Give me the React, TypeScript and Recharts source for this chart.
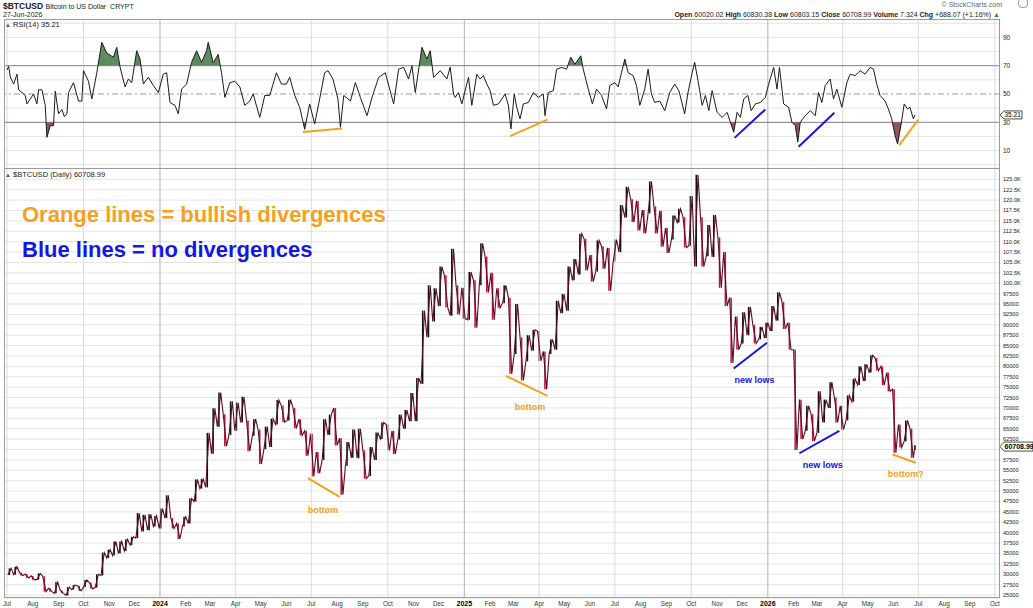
import React from 'react'
import {
  ComposedChart, Line, Area, Bar, Cell, XAxis, YAxis, CartesianGrid,
  ReferenceLine, ReferenceDot,
} from 'recharts'

// ---- values ----

// weekly low / high in $K, weeks start Sat 1 Jul 2023; last entry is 27 Jun 2026 on its own
const weekLow = [
  29.8, 29.9, 29.7, 29.1, 28.7, 28.7, 25.8, 25.8, 25.4, 25.4,
  24.9, 26.3, 26.0, 26.9, 26.5, 26.8, 29.7, 33.9, 34.5, 35.0,
  35.6, 37.0, 38.7, 40.3, 40.6, 41.5, 41.0, 43.5, 41.0, 38.5,
  41.5, 42.2, 47.5, 50.6, 50.9, 59.0, 65.5, 60.8, 63.5, 64.5,
  66.5, 59.6, 63.3, 56.5, 60.1, 60.6, 66.0, 66.6, 67.0, 65.1,
  63.4, 58.5, 53.5, 54.3, 57.5, 63.5, 61.0, 49.1, 56.1, 58.0,
  57.9, 53.0, 53.6, 57.5, 62.5, 59.8, 58.9, 62.4, 65.0, 66.8,
  66.8, 75.8, 87.0, 90.8, 94.5, 94.2, 92.2, 92.5, 91.5, 91.2,
  89.3, 99.5, 97.8, 91.2, 94.1, 95.2, 78.2, 83.0, 76.6, 81.2,
  83.8, 81.3, 74.5, 83.0, 84.0, 92.8, 93.4, 100.7, 102.1, 103.1,
  100.4, 102.8, 103.5, 98.2, 105.2, 107.5, 115.8, 114.7, 112.7, 112.0,
  116.8, 112.0, 108.8, 107.3, 110.5, 114.6, 108.6, 109.0, 104.0, 104.0,
  106.5, 106.3, 98.9, 94.5, 80.8, 84.0, 85.5, 87.5, 85.5, 86.5,
  86.8, 88.5, 91.0, 89.0, 84.0, 59.9, 62.5, 64.5, 62.0, 64.0,
  66.5, 70.0, 66.5, 64.8, 67.0, 71.5, 75.5, 76.5, 78.5, 79.0,
  75.5, 74.0, 59.2, 60.5, 62.0, 58.0, 59.9,
]
const weekHigh = [
  31.4, 31.8, 30.4, 30.0, 29.6, 30.2, 29.5, 26.6, 28.1, 26.1,
  26.9, 27.4, 27.2, 28.6, 28.0, 30.0, 35.2, 35.9, 37.9, 37.9,
  38.4, 39.0, 44.7, 44.3, 44.4, 44.0, 45.8, 49.0, 43.5, 42.2,
  43.8, 48.2, 52.8, 52.9, 64.0, 69.9, 73.7, 68.5, 71.6, 71.3,
  72.7, 67.0, 67.3, 64.8, 65.5, 67.4, 71.9, 70.5, 72.0, 70.0,
  67.3, 64.5, 63.8, 59.4, 67.3, 68.4, 70.0, 62.7, 61.8, 64.8,
  65.0, 59.8, 60.6, 64.1, 66.5, 66.0, 64.5, 68.4, 69.5, 73.6,
  77.2, 93.4, 99.5, 98.8, 104.0, 101.9, 108.3, 99.5, 98.9, 102.7,
  100.7, 109.6, 106.4, 102.5, 98.8, 99.5, 96.5, 95.0, 87.0, 87.5,
  88.8, 88.5, 83.6, 86.5, 95.8, 97.4, 104.0, 105.8, 111.9, 110.7,
  106.8, 110.3, 108.9, 108.5, 110.5, 118.8, 123.2, 120.2, 119.8, 117.6,
  124.5, 118.5, 117.4, 113.3, 116.3, 117.9, 115.9, 121.0, 126.1, 115.9,
  114.0, 116.4, 111.0, 107.5, 96.5, 92.0, 93.0, 94.3, 90.0, 89.5,
  90.5, 94.5, 97.8, 95.5, 90.5, 84.0, 72.0, 70.5, 68.5, 74.0,
  72.0, 76.2, 72.5, 70.5, 73.0, 77.0, 80.0, 80.5, 82.7, 82.0,
  80.0, 78.5, 74.5, 66.0, 67.0, 65.0, 61.0,
]

// RSI(14): [days since 1 Jul 2023, value]
const rsiPoints: [number, number][] = [
  [0, 67], [2, 69.5], [4, 62], [8, 57], [12, 64], [14, 53], [22, 49], [24, 43], [32, 50], [36, 43],
  [38, 53], [42, 53], [46, 42], [48, 19.4], [52, 27.6], [56, 27.6], [58, 52], [62, 36], [66, 39], [69, 34],
  [72, 36], [74, 51], [80, 58], [86, 45], [90, 45], [92, 66.5], [98, 59], [102, 46.5], [108, 65], [114, 86.5],
  [120, 79], [128, 76], [132, 83], [136, 69], [142, 55], [146, 60.6], [150, 58], [156, 80.6], [160, 74.7], [164, 57],
  [170, 61.8], [176, 56], [182, 51], [188, 64], [192, 65], [196, 44], [202, 42], [206, 36], [210, 53.5], [216, 57],
  [222, 72.4], [228, 80.6], [234, 72.4], [240, 80.6], [242, 86.5], [248, 72], [254, 78], [258, 65], [262, 47.6], [268, 58],
  [274, 59], [280, 55], [286, 42], [292, 45], [296, 50], [304, 33.5], [310, 49], [316, 49], [324, 65], [330, 57],
  [336, 57], [340, 61.8], [346, 49], [352, 40.6], [358, 25], [364, 43], [370, 28.8], [376, 46.5], [382, 65], [386, 66.5],
  [392, 60.6], [398, 46.5], [401, 26.5], [405, 49], [413, 45], [419, 58], [425, 47.6], [433, 34.7], [439, 47.6], [447, 61.8],
  [455, 65], [465, 43], [471, 67.6], [477, 68.8], [483, 60.6], [487, 70], [491, 51], [499, 83], [505, 74.7], [509, 80.6],
  [513, 61.8], [521, 66.5], [529, 60.6], [533, 69], [537, 50],
  [539, 47.6], [543, 51], [547, 43], [555, 61.8], [559, 42], [565, 64], [569, 60.6], [573, 63], [577, 57], [581, 52.4],
  [585, 42], [591, 43], [599, 50], [603, 42], [606, 25.3], [610, 50], [613, 40.6], [617, 32.4], [621, 43], [627, 44],
  [633, 51], [639, 47.6], [645, 50], [647, 34.7], [651, 51], [657, 52.4], [661, 67.6], [667, 68.8], [673, 67.6], [678, 76],
  [683, 71], [690, 77], [693, 67.6], [699, 53.5], [704, 43], [709, 53.5], [715, 49], [721, 39.4], [725, 56], [731, 58],
  [735, 55], [739, 65], [743, 74.7], [747, 65], [753, 63], [757, 56], [761, 42], [767, 53.5], [771, 67.6], [775, 50],
  [779, 44], [785, 45], [791, 38.2], [797, 51], [803, 57], [808, 52.4], [815, 36], [819, 51], [824, 65], [827, 72.4],
  [831, 59.4], [836, 42], [840, 49], [844, 38.2], [848, 52.4], [854, 37], [860, 33.5], [866, 37], [870, 30], [874, 23],
  [878, 37], [882, 33.5], [886, 46.5], [891, 49], [895, 38.2], [900, 43], [906, 44], [912, 47.6], [916, 57], [922, 68.8],
  [926, 53.5], [929, 68.8], [934, 43], [940, 40.6], [944, 30], [948, 27.6], [951, 16], [954, 30], [960, 34.7], [966, 38.2],
  [972, 34.7], [976, 51], [980, 44], [984, 56], [990, 60.6], [994, 46.5], [998, 53.5], [1004, 40.6], [1010, 58], [1014, 64],
  [1020, 63], [1026, 66.5], [1032, 64], [1038, 68.8], [1042, 67.6], [1046, 57], [1050, 49], [1056, 45], [1060, 39.4], [1064, 32.4],
  [1068, 20.6], [1071, 14.7], [1075, 27.6], [1079, 43], [1083, 39.4], [1086, 40.6], [1090, 32.4], [1092, 35.2],
]

// hand-drawn divergence strokes (day, value) -> (day, value)
const rsiStrokes = [
  { d1: 356, v1: 23.2, d2: 403, v2: 25.6, kind: 'bull' },
  { d1: 605, v1: 20.2, d2: 650, v2: 31.9, kind: 'bull' },
  { d1: 875, v1: 19.0, d2: 912, v2: 39.1, kind: 'none' },
  { d1: 952, v1: 12.7, d2: 995, v2: 36.8, kind: 'none' },
  { d1: 1073, v1: 13.9, d2: 1096, v2: 31.9, kind: 'bull' },
]
const priceStrokes = [
  { d1: 362, v1: 53.1, d2: 400, v2: 48.6, kind: 'bull' },
  { d1: 600, v1: 77.7, d2: 650, v2: 72.9, kind: 'bull' },
  { d1: 874, v1: 79.5, d2: 914, v2: 85.7, kind: 'none' },
  { d1: 953, v1: 59.1, d2: 1001, v2: 64.5, kind: 'none' },
  { d1: 1065, v1: 58.8, d2: 1093, v2: 56.8, kind: 'bull' },
]
const priceNotes = [
  { d: 380, v: 45.6, text: 'bottom', kind: 'bull' },
  { d: 629, v: 70.3, text: 'bottom', kind: 'bull' },
  { d: 899, v: 76.7, text: 'new lows', kind: 'none' },
  { d: 981, v: 56.3, text: 'new lows', kind: 'none' },
  { d: 1081, v: 54.1, text: 'bottom?', kind: 'bull' },
]

const LAST_CLOSE = 60.70899
const LAST_RSI = 35.21
const priceTicks = [
  25, 27.5, 30, 32.5, 35, 37.5, 40, 42.5, 45, 47.5, 50, 52.5, 55, 57.5, 60, 62.5, 65, 67.5, 70, 72.5,
  75, 77.5, 80, 82.5, 85, 87.5, 90, 92.5, 95, 97.5, 100, 102.5, 105, 107.5, 110, 112.5, 115, 117.5, 120, 122.5, 125,
]
const rsiLabels = [10, 30, 50, 70, 90]
const rsiGrid = [0, 10, 20, 40, 60, 80, 90, 100]
const MONTHS = ['Jan', 'Feb', 'Mar', 'Apr', 'May', 'Jun', 'Jul', 'Aug', 'Sep', 'Oct', 'Nov', 'Dec']

// ---- layout ----
const W = 1033
const H = 608
const PLOT_L = 4
const AXIS_W = 33
const RSI_TOP = 20
const RSI_BOTTOM = 168
const PRICE_TOP = 168
const PRICE_H = H - PRICE_TOP
const X_DOMAIN: [number, number] = [-3.6, 1194.2]
const RSI_DOMAIN: [number, number] = [-2.3, 102.3]
const PRICE_DOMAIN: [number, number] = [24.28, 127.72]

const ORANGE = '#F5A01E'
const BLUE = '#1616E2'
const UP = '#111111'
const DOWN = '#C3143F'
const GRID = '#E4E4E4'
const QGRID = '#DCDCDC'
const YGRID = '#B2B2B2'
const FONT = '"Liberation Sans", Arial, Helvetica, sans-serif'

const DAY0 = Date.UTC(2023, 6, 1)
const monthStarts = Array.from({ length: 40 }, (_, k) => {
  const y = 2023 + Math.floor((6 + k) / 12)
  const m = (6 + k) % 12
  return {
    day: Math.round((Date.UTC(y, m, 1) - DAY0) / 86400000),
    month: m,
    label: m === 0 ? String(y) : MONTHS[m],
  }
})
const monthByDay = new Map(monthStarts.map(m => [m.day, m]))
const quarterStarts = monthStarts.filter(m => m.month % 3 === 0)

const bars = weekLow.map((lo, i) => ({
  day: Math.min(i * 7 + 3, 1092),
  range: [lo, weekHigh[i]],
  up: i === 0 || lo + weekHigh[i] >= weekLow[i - 1] + weekHigh[i - 1],
}))
// price path: each week visits its two extremes, low first in a rising week
const pricePath = bars.flatMap((b, i) => {
  const [lo, hi] = b.range
  const a = Math.min(i * 7 + 1, 1092)
  const z = Math.min(i * 7 + 5, 1092)
  return b.up ? [{ day: a, p: lo }, { day: z, p: hi }] : [{ day: a, p: hi }, { day: z, p: lo }]
})
const rsiData = rsiPoints.map(([day, v]) => ({ day, v }))

const rsiY = (v: number) =>
  RSI_TOP + ((RSI_DOMAIN[1] - v) / (RSI_DOMAIN[1] - RSI_DOMAIN[0])) * (RSI_BOTTOM - RSI_TOP)

const kindColor = (k: string) => (k === 'bull' ? ORANGE : BLUE)

function MonthTick({ x, y, payload }: any) {
  const m = monthByDay.get(payload.value)
  if (!m) return null
  const isYear = m.month === 0
  return (
    <text x={x} y={y + 7.5} textAnchor="middle" fontSize={isYear ? 7 : 6.3}
      fontWeight={isYear ? 700 : 400} fill={isYear ? '#000' : '#333'}>
      {m.label}
    </text>
  )
}

function PriceTick({ x, y, payload }: any) {
  const v = payload.value
  if (v === 60) return null // sits under the last-price tag
  const txt = v >= 100 ? `${v.toFixed(1)}K` : String(Math.round(v * 1000))
  return <text x={x} y={y + 2} textAnchor="start" fontSize={5.6} fill="#222">{txt}</text>
}

function RsiTick({ x, y, payload }: any) {
  return <text x={x} y={y + 2.3} textAnchor="start" fontSize={6.5} fill="#222">{payload.value}</text>
}

function Tag({ cx, cy, w, h, fs, bold, text }: any) {
  return (
    <g>
      <path
        d={`M${cx},${cy} L${cx + 4},${cy - h / 2} L${cx + w},${cy - h / 2} L${cx + w},${cy + h / 2} L${cx + 4},${cy + h / 2} Z`}
        fill="#fff" stroke="#222" strokeWidth={0.8}
      />
      <text x={cx + 4.5} y={cy + fs * 0.36} fontSize={fs} fontWeight={bold ? 700 : 400} fill="#000">{text}</text>
    </g>
  )
}

function RsiChart({ children, axis = false }: { children?: React.ReactNode; axis?: boolean }) {
  return (
    <ComposedChart width={W} height={RSI_BOTTOM} data={rsiData}
      margin={{ top: RSI_TOP, right: 0, bottom: 0, left: PLOT_L }}>
      <XAxis dataKey="day" type="number" domain={X_DOMAIN} allowDataOverflow hide />
      <YAxis orientation="right" width={AXIS_W} domain={RSI_DOMAIN} allowDataOverflow
        ticks={rsiLabels} interval={0} tick={axis ? (p: any) => <RsiTick {...p} /> : false}
        axisLine={false} tickLine={false} tickSize={0} tickMargin={3} />
      {children}
    </ComposedChart>
  )
}

const quarterLines = (prefix: string) =>
  quarterStarts.map(q => (
    <ReferenceLine key={`${prefix}${q.day}`} x={q.day} stroke={q.month === 0 ? YGRID : QGRID} strokeWidth={1} />
  ))

export default function App() {
  const y70 = rsiY(70)
  const y30 = rsiY(30)

  return (
    <div style={{
      position: 'absolute', left: 0, top: 0, width: W, height: H,
      background: '#fff', overflow: 'hidden', fontFamily: FONT, color: '#222',
    }}>
      {/* header */}
      <div style={{ position: 'absolute', left: 3, top: 1, fontSize: 8.5, fontWeight: 700, lineHeight: '10px', whiteSpace: 'nowrap' }}>
        $BTCUSD <span style={{ fontSize: 7, fontWeight: 400 }}>Bitcoin to US Dollar&nbsp; CRYPT</span>
      </div>
      <div style={{ position: 'absolute', left: 3, top: 11, fontSize: 7, lineHeight: '8px', whiteSpace: 'nowrap' }}>
        27-Jun-2026
      </div>
      <div style={{ position: 'absolute', right: 31, top: 1, fontSize: 7, lineHeight: '8px', color: '#666', whiteSpace: 'nowrap' }}>
        © StockCharts.com
      </div>
      <div style={{ position: 'absolute', right: 33, top: 11, fontSize: 7, lineHeight: '8px', whiteSpace: 'nowrap' }}>
        <b>Open</b> 60020.02 <b>High</b> 60830.38 <b>Low</b> 60803.15 <b>Close</b> 60708.99{' '}
        <b>Volume</b> 7.324 <b>Chg</b> +688.07 (+1.16%) <span style={{ color: '#2b8a2b' }}>▲</span>
      </div>
      <div style={{ position: 'absolute', left: 1018, top: -2, width: 8, height: 8, borderRadius: 4, border: '1px solid #999' }} />

      {/* RSI panel: grid + axis */}
      <div style={{ position: 'absolute', left: 0, top: 0 }}>
        <RsiChart axis>
          {rsiGrid.map(v => <ReferenceLine key={`rg${v}`} y={v} stroke={GRID} strokeWidth={1} />)}
          {quarterLines('rq')}
          <ReferenceLine y={70} stroke="#8a8a8a" strokeWidth={1} />
          <ReferenceLine y={30} stroke="#8a8a8a" strokeWidth={1} />
          <ReferenceLine y={50} stroke="#9a9a9a" strokeWidth={1} strokeDasharray="6 3 2 3" />
        </RsiChart>
      </div>

      {/* RSI overbought fill (clipped above 70) */}
      <div style={{ position: 'absolute', left: 0, top: 0, width: W, height: y70, overflow: 'hidden' }}>
        <RsiChart>
          <Area dataKey="v" type="linear" baseValue={70} stroke="none" fill="#5E8B5E" fillOpacity={1} isAnimationActive={false} />
        </RsiChart>
      </div>

      {/* RSI oversold fill (clipped below 30) */}
      <div style={{ position: 'absolute', left: 0, top: y30, width: W, height: RSI_BOTTOM - y30, overflow: 'hidden' }}>
        <div style={{ position: 'absolute', left: 0, top: -y30 }}>
          <RsiChart>
            <Area dataKey="v" type="linear" baseValue={30} stroke="none" fill="#8E5656" fillOpacity={1} isAnimationActive={false} />
          </RsiChart>
        </div>
      </div>

      {/* RSI line + strokes */}
      <div style={{ position: 'absolute', left: 0, top: 0 }}>
        <RsiChart>
          <Line dataKey="v" type="linear" stroke="#1b1b1b" strokeWidth={1} dot={false} activeDot={false} isAnimationActive={false} />
          {rsiStrokes.map((s, i) => (
            <ReferenceLine key={`rs${i}`} segment={[{ x: s.d1, y: s.v1 }, { x: s.d2, y: s.v2 }]}
              stroke={kindColor(s.kind)} strokeWidth={2} ifOverflow="visible" />
          ))}
          <ReferenceDot x={X_DOMAIN[1]} y={LAST_RSI} r={0} ifOverflow="visible"
            shape={(p: any) => <Tag cx={p.cx} cy={p.cy} w={22} h={8} fs={6.5} text="35.21" />} />
        </RsiChart>
      </div>

      {/* price panel */}
      <div style={{ position: 'absolute', left: 0, top: PRICE_TOP }}>
        <ComposedChart width={W} height={PRICE_H} data={bars}
          margin={{ top: 0, right: 0, bottom: 0, left: PLOT_L }}>
          <CartesianGrid vertical={false} stroke={GRID} />
          {quarterLines('pq')}
          <XAxis dataKey="day" type="number" domain={X_DOMAIN} allowDataOverflow
            ticks={monthStarts.map(m => m.day)} interval={0} height={10}
            tick={(p: any) => <MonthTick {...p} />}
            axisLine={false} tickLine={false} tickSize={0} tickMargin={0} />
          <YAxis orientation="right" width={AXIS_W} domain={PRICE_DOMAIN} allowDataOverflow
            ticks={priceTicks} interval={0} tick={(p: any) => <PriceTick {...p} />}
            axisLine={false} tickLine={false} tickSize={0} tickMargin={3} />
          <Line data={pricePath} dataKey="p" type="linear" stroke="#5c0c22" strokeWidth={1.1}
            dot={false} activeDot={false} isAnimationActive={false} />
          <Bar dataKey="range" barSize={2} isAnimationActive={false}>
            {bars.map((b, i) => <Cell key={i} fill={b.up ? UP : DOWN} />)}
          </Bar>
          {priceStrokes.map((s, i) => (
            <ReferenceLine key={`ps${i}`} segment={[{ x: s.d1, y: s.v1 }, { x: s.d2, y: s.v2 }]}
              stroke={kindColor(s.kind)} strokeWidth={2} ifOverflow="visible" />
          ))}
          {priceNotes.map((n, i) => (
            <ReferenceDot key={`pn${i}`} x={n.d} y={n.v} r={0} fill="none" stroke="none" ifOverflow="visible"
              label={{ value: n.text, position: 'center', fill: kindColor(n.kind), fontSize: 9, fontWeight: 700 }} />
          ))}
          <ReferenceDot x={X_DOMAIN[1]} y={LAST_CLOSE} r={0} ifOverflow="visible"
            shape={(p: any) => <Tag cx={p.cx} cy={p.cy} w={33} h={9} fs={7} bold text="60708.99" />} />
        </ComposedChart>
      </div>

      {/* panel captions */}
      <div style={{ position: 'absolute', left: 5, top: 21, fontSize: 7.5, lineHeight: '8px', whiteSpace: 'nowrap' }}>
        <span style={{ fontSize: 6, color: '#555' }}>▲</span> RSI(14) 35.21
      </div>
      <div style={{ position: 'absolute', left: 5, top: 171, fontSize: 7.5, lineHeight: '8px', whiteSpace: 'nowrap' }}>
        <span style={{ fontSize: 6, color: '#555' }}>▲</span> $BTCUSD (Daily) 60708.99
      </div>

      {/* legend text */}
      <div style={{ position: 'absolute', left: 22, top: 204, fontSize: 22, fontWeight: 700, lineHeight: '22px', color: ORANGE, whiteSpace: 'nowrap' }}>
        Orange lines = bullish divergences
      </div>
      <div style={{ position: 'absolute', left: 22, top: 238.5, fontSize: 22, fontWeight: 700, lineHeight: '22px', color: BLUE, whiteSpace: 'nowrap' }}>
        Blue lines = no divergences
      </div>

      {/* frames */}
      <div style={{ position: 'absolute', left: PLOT_L, top: 19, width: W - AXIS_W - PLOT_L, height: 598 - 19, border: '1px solid #9c9c9c', boxSizing: 'border-box', pointerEvents: 'none' }} />
      <div style={{ position: 'absolute', left: PLOT_L, top: 168, width: W - AXIS_W - PLOT_L, height: 1, background: '#9c9c9c' }} />
    </div>
  )
}
